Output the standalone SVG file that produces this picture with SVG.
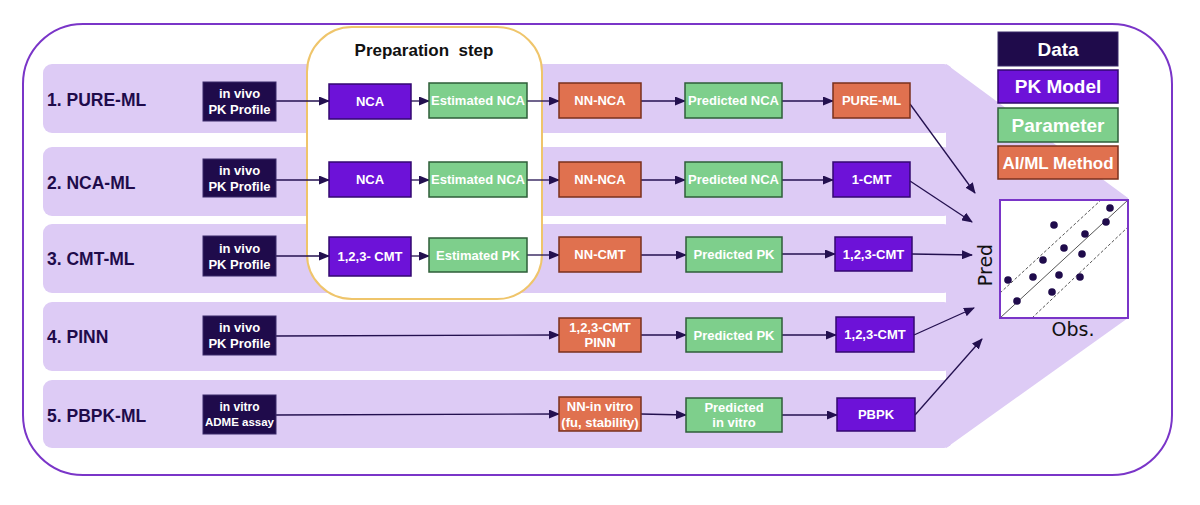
<svg xmlns="http://www.w3.org/2000/svg" width="1200" height="505" viewBox="0 0 1200 505">
<defs>
<marker id="arr" markerUnits="userSpaceOnUse" markerWidth="11" markerHeight="9" refX="10" refY="4.5" orient="auto">
<path d="M0,0 L11,4.5 L0,9 z" fill="#23104F"/>
</marker>
<clipPath id="chartClip"><rect x="1000" y="200" width="128" height="118"/></clipPath>
</defs>
<style>
.band{fill:#DDCBF5}
.data{fill:#1F0B4B;stroke:#3A2A6A;stroke-width:1}
.pk{fill:#6D12D8;stroke:#330870;stroke-width:1.5}
.par{fill:#7ECF8C;stroke:#2E5E38;stroke-width:1.5}
.ml{fill:#E0714F;stroke:#7A301C;stroke-width:1.5}
.bt{font-family:"Liberation Sans",Arial,sans-serif;font-weight:bold;font-size:13px;fill:#fff;text-anchor:middle}
.lab{font-family:"Liberation Sans",Arial,sans-serif;font-weight:bold;font-size:17.5px;fill:#1F0B4B}
.leg{font-family:"Liberation Sans",Arial,sans-serif;font-weight:bold;font-size:19px;fill:#fff;text-anchor:middle}
.conn line, .conn path{stroke:#23104F;stroke-width:1.3;fill:none;marker-end:url(#arr)}
.dot{fill:#1F0B4B}
.ax{font-family:"DejaVu Sans",Verdana,sans-serif;font-size:19px;fill:#111}
</style>

<rect id="frame" x="23" y="24" width="1149" height="451" rx="60" fill="#fff" stroke="#7A35C8" stroke-width="2"/>

<g id="bands">
<rect class="band" x="43" y="64" width="910" height="69" rx="9"/>
<rect class="band" x="43" y="147" width="910" height="69" rx="9"/>
<rect class="band" x="43" y="224" width="910" height="69" rx="9"/>
<rect class="band" x="43" y="302" width="910" height="69" rx="9"/>
<rect class="band" x="43" y="380" width="910" height="68" rx="9"/>
<polygon class="band" points="946,64 1128,198 1128,318 946,448"/>
</g>

<g id="prep">
<rect x="307" y="27" width="235" height="272" rx="45" fill="#fff" stroke="#EFC56B" stroke-width="2"/>
<text x="424" y="56" font-family="Liberation Sans, Arial, sans-serif" font-weight="bold" font-size="17px" fill="#111" text-anchor="middle" xml:space="preserve">Preparation  step</text>
</g>

<g id="labels">
<text class="lab" x="47" y="106">1. PURE-ML</text>
<text class="lab" x="47" y="189">2. NCA-ML</text>
<text class="lab" x="47" y="265">3. CMT-ML</text>
<text class="lab" x="47" y="343">4. PINN</text>
<text class="lab" x="47" y="422">5. PBPK-ML</text>
</g>

<g id="connectors" class="conn">
<line x1="276" y1="101" x2="329" y2="101"/>
<line x1="411" y1="101" x2="429" y2="101"/>
<line x1="527" y1="101" x2="559" y2="101"/>
<line x1="641" y1="101" x2="685" y2="101"/>
<line x1="782" y1="101" x2="833" y2="101"/>
<line x1="910" y1="104" x2="975" y2="193"/>

<line x1="276" y1="180" x2="329" y2="180"/>
<line x1="411" y1="180" x2="429" y2="180"/>
<line x1="527" y1="180" x2="559" y2="180"/>
<line x1="641" y1="180" x2="685" y2="180"/>
<line x1="782" y1="180" x2="833" y2="180"/>
<line x1="910" y1="181" x2="972" y2="222"/>

<line x1="276" y1="256" x2="329" y2="256"/>
<line x1="411" y1="256" x2="429" y2="256"/>
<line x1="527" y1="255" x2="559" y2="255"/>
<line x1="641" y1="255" x2="686" y2="255"/>
<line x1="782" y1="254" x2="835" y2="254"/>
<line x1="912" y1="254" x2="972" y2="255"/>

<line x1="276" y1="336" x2="559" y2="335"/>
<line x1="641" y1="335" x2="686" y2="335"/>
<line x1="782" y1="335" x2="836" y2="335"/>
<line x1="914" y1="335" x2="974" y2="308"/>

<line x1="276" y1="415" x2="559" y2="414"/>
<line x1="641" y1="414" x2="686" y2="415"/>
<line x1="782" y1="415" x2="837" y2="415"/>
<line x1="915" y1="415" x2="982" y2="339"/>
</g>

<g id="row1">
<g id="r1-data"><rect class="data" x="203" y="82" width="73" height="39"/><text class="bt" x="239.5" y="98">in vivo</text><text class="bt" x="239.5" y="114">PK Profile</text></g>
<g id="r1-nca"><rect class="pk" x="329" y="84" width="82" height="35"/><text class="bt" x="370" y="106">NCA</text></g>
<g id="r1-est"><rect class="par" x="429" y="83" width="98" height="35"/><text class="bt" x="478" y="105">Estimated NCA</text></g>
<g id="r1-nn"><rect class="ml" x="559" y="83" width="82" height="35"/><text class="bt" x="600" y="105">NN-NCA</text></g>
<g id="r1-pred"><rect class="par" x="685" y="83" width="97" height="35"/><text class="bt" x="733.5" y="105">Predicted NCA</text></g>
<g id="r1-out"><rect class="ml" x="833" y="83" width="77" height="35"/><text class="bt" x="871.5" y="105">PURE-ML</text></g>
</g>

<g id="row2">
<g id="r2-data"><rect class="data" x="203" y="159" width="73" height="38"/><text class="bt" x="239.5" y="175">in vivo</text><text class="bt" x="239.5" y="191">PK Profile</text></g>
<g id="r2-nca"><rect class="pk" x="329" y="162" width="82" height="35"/><text class="bt" x="370" y="184">NCA</text></g>
<g id="r2-est"><rect class="par" x="429" y="162" width="98" height="35"/><text class="bt" x="478" y="184">Estimated NCA</text></g>
<g id="r2-nn"><rect class="ml" x="559" y="162" width="82" height="35"/><text class="bt" x="600" y="184">NN-NCA</text></g>
<g id="r2-pred"><rect class="par" x="685" y="162" width="97" height="35"/><text class="bt" x="733.5" y="184">Predicted NCA</text></g>
<g id="r2-out"><rect class="pk" x="833" y="162" width="77" height="35"/><text class="bt" x="871.5" y="184">1-CMT</text></g>
</g>

<g id="row3">
<g id="r3-data"><rect class="data" x="203" y="236" width="73" height="40"/><text class="bt" x="239.5" y="253">in vivo</text><text class="bt" x="239.5" y="269">PK Profile</text></g>
<g id="r3-cmt"><rect class="pk" x="329" y="237" width="82" height="39"/><text class="bt" x="370" y="261">1,2,3- CMT</text></g>
<g id="r3-est"><rect class="par" x="429" y="238" width="98" height="34"/><text class="bt" x="478" y="260">Estimated PK</text></g>
<g id="r3-nn"><rect class="ml" x="559" y="237" width="82" height="35"/><text class="bt" x="600" y="259">NN-CMT</text></g>
<g id="r3-pred"><rect class="par" x="686" y="237" width="96" height="35"/><text class="bt" x="734" y="259">Predicted PK</text></g>
<g id="r3-out"><rect class="pk" x="835" y="237" width="77" height="34"/><text class="bt" x="873.5" y="259">1,2,3-CMT</text></g>
</g>

<g id="row4">
<g id="r4-data"><rect class="data" x="203" y="316" width="73" height="39"/><text class="bt" x="239.5" y="332">in vivo</text><text class="bt" x="239.5" y="348">PK Profile</text></g>
<g id="r4-pinn"><rect class="ml" x="559" y="318" width="82" height="34"/><text class="bt" x="600" y="332">1,2,3-CMT</text><text class="bt" x="600" y="347">PINN</text></g>
<g id="r4-pred"><rect class="par" x="686" y="318" width="96" height="34"/><text class="bt" x="734" y="340">Predicted PK</text></g>
<g id="r4-out"><rect class="pk" x="836" y="317" width="78" height="35"/><text class="bt" x="875" y="339">1,2,3-CMT</text></g>
</g>

<g id="row5">
<g id="r5-data"><rect class="data" x="203" y="395" width="73" height="39"/><text class="bt" x="239.5" y="411" style="font-size:12px">in vitro</text><text class="bt" x="239.5" y="426" style="font-size:11.5px">ADME assay</text></g>
<g id="r5-nn"><rect class="ml" x="559" y="397" width="82" height="34"/><text class="bt" x="600" y="411">NN-in vitro</text><text class="bt" x="600" y="427">(fu, stability)</text></g>
<g id="r5-pred"><rect class="par" x="686" y="398" width="96" height="34"/><text class="bt" x="734" y="412">Predicted</text><text class="bt" x="734" y="427">in vitro</text></g>
<g id="r5-out"><rect class="pk" x="837" y="398" width="78" height="33"/><text class="bt" x="876" y="419">PBPK</text></g>
</g>

<g id="legend">
<g id="leg-data"><rect class="data" x="998" y="32" width="120" height="34"/><text class="leg" x="1058" y="56">Data</text></g>
<g id="leg-pk"><rect class="pk" x="998" y="70" width="120" height="33"/><text class="leg" x="1058" y="93">PK Model</text></g>
<g id="leg-par"><rect class="par" x="998" y="108" width="120" height="34"/><text class="leg" x="1058" y="132">Parameter</text></g>
<g id="leg-ml"><rect class="ml" x="998" y="146" width="120" height="33"/><text class="leg" x="1058" y="169" style="font-size:17px">AI/ML Method</text></g>
</g>

<g id="chart">
<rect x="1000" y="200" width="128" height="118" fill="#fff"/>
<g clip-path="url(#chartClip)" stroke="#555" stroke-width="1" fill="none">
<line x1="1000" y1="318" x2="1128" y2="200"/>
<line x1="1000" y1="293" x2="1101" y2="200" stroke-dasharray="3,2"/>
<line x1="1032" y1="318" x2="1128" y2="227" stroke-dasharray="3,2"/>
</g>
<circle class="dot" cx="1110" cy="208" r="3.8"/>
<circle class="dot" cx="1106" cy="222" r="3.8"/>
<circle class="dot" cx="1054" cy="225" r="3.8"/>
<circle class="dot" cx="1085" cy="234" r="3.8"/>
<circle class="dot" cx="1064" cy="248" r="3.8"/>
<circle class="dot" cx="1082" cy="254" r="3.8"/>
<circle class="dot" cx="1043" cy="260" r="3.8"/>
<circle class="dot" cx="1008" cy="280" r="3.8"/>
<circle class="dot" cx="1033" cy="277" r="3.8"/>
<circle class="dot" cx="1059" cy="275" r="3.8"/>
<circle class="dot" cx="1080" cy="277" r="3.8"/>
<circle class="dot" cx="1052" cy="292" r="3.8"/>
<circle class="dot" cx="1017" cy="301" r="3.8"/>
<rect x="1000" y="200" width="128" height="118" fill="none" stroke="#7A35C8" stroke-width="2"/>
<text class="ax" x="0" y="0" text-anchor="middle" transform="translate(992,265) rotate(-90)">Pred</text>
<text class="ax" x="1073" y="336" text-anchor="middle">Obs.</text>
</g>
</svg>
